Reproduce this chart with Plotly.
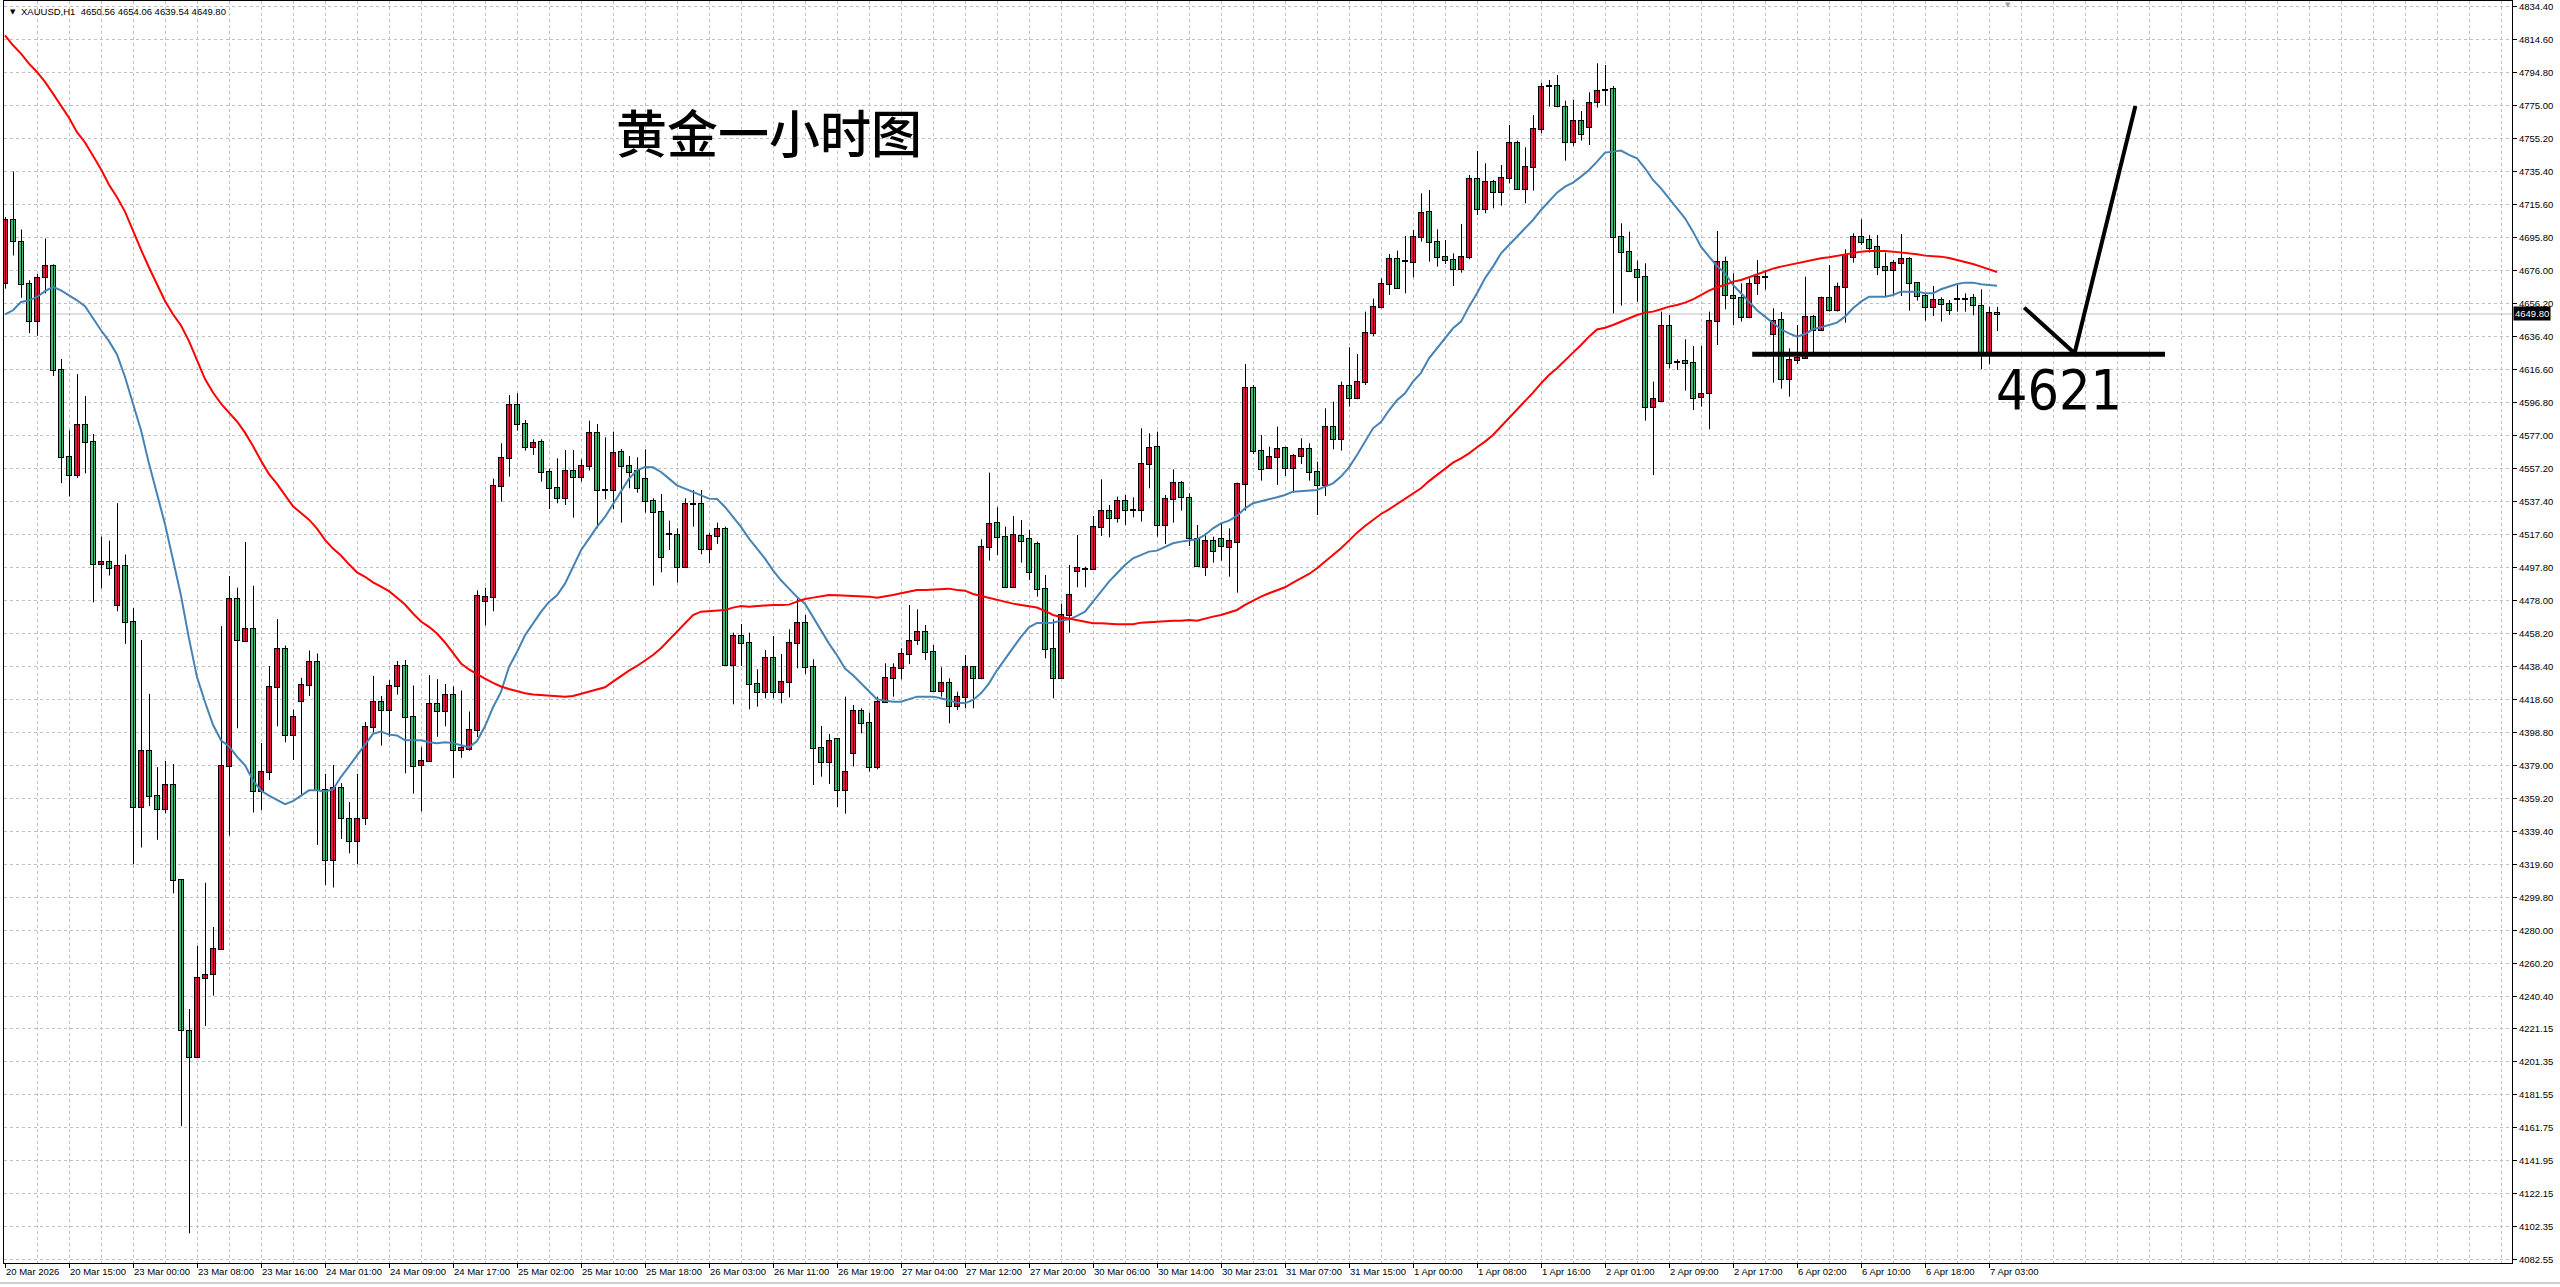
import plotly.graph_objects as go

# ---------------- data ----------------
time_labels = ["20 Mar 2026", "20 Mar 15:00", "23 Mar 00:00", "23 Mar 08:00", "23 Mar 16:00",
               "24 Mar 01:00", "24 Mar 09:00", "24 Mar 17:00", "25 Mar 02:00", "25 Mar 10:00",
               "25 Mar 18:00", "26 Mar 03:00", "26 Mar 11:00", "26 Mar 19:00", "27 Mar 04:00",
               "27 Mar 12:00", "27 Mar 20:00", "30 Mar 06:00", "30 Mar 14:00", "30 Mar 23:01",
               "31 Mar 07:00", "31 Mar 15:00", "1 Apr 00:00", "1 Apr 08:00", "1 Apr 16:00",
               "2 Apr 01:00", "2 Apr 09:00", "2 Apr 17:00", "6 Apr 02:00", "6 Apr 10:00",
               "6 Apr 18:00", "7 Apr 03:00"]

price_labels = ["4834.40", "4814.60", "4794.80", "4775.00", "4755.20", "4735.40", "4715.60",
                "4695.80", "4676.00", "4656.20", "4636.40", "4616.60", "4596.80", "4577.00",
                "4557.20", "4537.40", "4517.60", "4497.80", "4478.00", "4458.20", "4438.40",
                "4418.60", "4398.80", "4379.00", "4359.20", "4339.40", "4319.60", "4299.80",
                "4280.00", "4260.20", "4240.40", "4221.15", "4201.35", "4181.55", "4161.75",
                "4141.95", "4122.15", "4102.35", "4082.55"]

opens = [4668.3, 4706.4, 4693.0, 4667.8, 4645.6, 4671.8, 4678.5, 4616.1, 4563.9, 4553.2,
         4583.2, 4573.2, 4499.6, 4500.9, 4475.2, 4498.8, 4464.8, 4354.0, 4387.3, 4360.3,
         4352.7, 4367.1, 4310.0, 4219.4, 4203.7, 4251.4, 4253.7, 4268.6, 4378.4, 4478.7,
         4453.7, 4461.0, 4363.3, 4375.2, 4425.7, 4448.6, 4397.4, 4417.3, 4427.4, 4440.8,
         4364.0, 4321.9, 4365.6, 4346.9, 4333.5, 4347.4, 4401.7, 4416.8, 4412.0, 4426.4,
         4438.5, 4408.0, 4379.2, 4381.5, 4415.6, 4411.3, 4420.9, 4388.0, 4389.0, 4400.0,
         4477.6, 4480.0, 4546.5, 4563.2, 4595.2, 4583.8, 4569.8, 4572.8, 4555.2, 4545.2,
         4539.2, 4555.8, 4551.8, 4558.8, 4578.6, 4544.2, 4544.2, 4567.2, 4558.8, 4555.8,
         4550.6, 4537.8, 4530.8, 4517.6, 4517.2, 4498.2, 4535.6, 4535.6, 4508.6, 4516.8,
         4520.6, 4439.2, 4456.6, 4452.2, 4427.8, 4423.2, 4443.2, 4422.8, 4429.0, 4452.2,
         4464.6, 4437.8, 4389.2, 4381.2, 4394.6, 4364.2, 4386.2, 4411.8, 4404.6, 4378.2,
         4417.2, 4431.6, 4437.2, 4445.8, 4454.2, 4459.2, 4447.2, 4423.8, 4428.6, 4414.6,
         4419.8, 4437.8, 4431.2, 4509.8, 4524.2, 4515.8, 4486.2, 4516.6, 4514.6, 4511.8,
         4484.6, 4448.6, 4431.6, 4469.2, 4495.8, 4496.6, 4496.6, 4521.8, 4531.8, 4527.2,
         4537.8, 4532.2, 4532.2, 4559.8, 4569.8, 4523.2, 4538.6, 4548.2, 4539.2, 4514.6,
         4498.2, 4513.6, 4514.6, 4510.2, 4513.2, 4547.8, 4605.2, 4567.8, 4557.2, 4564.2,
         4569.2, 4557.2, 4564.6, 4568.6, 4555.2, 4547.2, 4582.2, 4574.6, 4606.8, 4599.2,
         4609.2, 4638.2, 4654.2, 4667.6, 4682.6, 4681.8, 4681.2, 4695.8, 4711.2, 4692.8,
         4684.2, 4682.2, 4676.6, 4684.2, 4730.6, 4712.6, 4728.8, 4723.2, 4731.2, 4752.2,
         4724.6, 4737.8, 4760.6, 4786.8, 4786.8, 4774.2, 4753.2, 4765.8, 4762.2, 4776.8,
         4784.2, 4784.6, 4696.2, 4686.8, 4676.2, 4672.2, 4594.2, 4597.8, 4642.6, 4621.2,
         4621.8, 4620.2, 4600.2, 4602.2, 4645.8, 4681.2, 4660.8, 4659.2, 4648.2, 4668.2,
         4671.8, 4637.6, 4646.0, 4610.6, 4622.2, 4623.6, 4648.0, 4640.4, 4659.4, 4652.4,
         4666.2, 4684.2, 4695.8, 4694.0, 4689.8, 4677.8, 4676.2, 4680.2, 4682.6, 4668.2,
         4660.6, 4653.8, 4658.2, 4655.6, 4658.8, 4658.8, 4659.2, 4654.6, 4626.6, 4650.56]

highs = [4708.0, 4735.3, 4700.5, 4670.0, 4673.7, 4695.1, 4679.6, 4622.8, 4580.0, 4613.7,
         4600.6, 4577.8, 4516.2, 4513.8, 4536.3, 4505.5, 4473.3, 4454.2, 4421.9, 4377.9,
         4381.7, 4379.7, 4310.5, 4232.8, 4270.6, 4308.5, 4282.0, 4462.5, 4492.6, 4485.6,
         4513.0, 4486.7, 4392.3, 4438.5, 4466.8, 4450.9, 4412.5, 4431.5, 4447.9, 4446.1,
         4373.9, 4379.2, 4368.3, 4357.0, 4373.9, 4405.0, 4432.7, 4420.6, 4430.2, 4441.6,
         4442.1, 4426.9, 4389.8, 4433.2, 4430.7, 4427.7, 4426.4, 4423.9, 4411.3, 4484.0,
         4485.6, 4551.0, 4572.2, 4601.2, 4602.2, 4586.2, 4574.6, 4574.6, 4557.2, 4563.2,
         4568.2, 4568.2, 4562.6, 4585.8, 4583.8, 4575.8, 4579.2, 4568.8, 4564.6, 4563.8,
         4568.6, 4539.2, 4541.8, 4525.8, 4521.2, 4539.2, 4544.2, 4544.2, 4518.6, 4524.6,
         4522.2, 4458.6, 4463.8, 4458.6, 4436.6, 4448.2, 4456.6, 4445.8, 4460.6, 4479.2,
         4469.2, 4442.6, 4402.6, 4397.8, 4395.2, 4420.2, 4415.2, 4413.2, 4410.6, 4420.2,
         4440.2, 4440.2, 4449.2, 4475.2, 4472.6, 4463.2, 4451.2, 4437.8, 4431.2, 4423.2,
         4445.2, 4438.2, 4514.6, 4554.6, 4533.8, 4522.2, 4528.6, 4526.2, 4520.2, 4513.2,
         4493.2, 4466.6, 4475.8, 4499.2, 4517.2, 4498.2, 4528.6, 4550.6, 4535.2, 4540.2,
         4541.2, 4539.8, 4581.2, 4578.2, 4579.2, 4541.2, 4556.6, 4549.6, 4542.2, 4523.2,
         4518.2, 4516.2, 4524.6, 4521.2, 4548.6, 4619.8, 4607.2, 4577.2, 4570.2, 4582.2,
         4570.2, 4565.8, 4575.2, 4572.2, 4561.2, 4593.2, 4597.2, 4609.2, 4629.8, 4625.8,
         4651.2, 4659.0, 4671.2, 4685.8, 4687.8, 4696.6, 4700.2, 4722.2, 4724.2, 4700.6,
         4694.2, 4686.2, 4703.8, 4733.2, 4747.6, 4740.2, 4730.2, 4739.2, 4763.2, 4753.8,
         4749.8, 4769.2, 4788.6, 4790.2, 4793.2, 4777.8, 4778.2, 4771.6, 4782.8, 4800.2,
         4799.2, 4786.6, 4704.2, 4699.2, 4681.8, 4680.2, 4609.2, 4651.2, 4649.2, 4622.6,
         4634.6, 4630.6, 4630.6, 4651.2, 4699.6, 4684.2, 4674.2, 4668.2, 4671.2, 4682.2,
         4676.2, 4653.2, 4651.0, 4629.2, 4643.2, 4672.2, 4649.2, 4660.2, 4679.2, 4668.6,
         4688.6, 4698.2, 4706.6, 4697.2, 4697.2, 4686.6, 4682.2, 4697.8, 4683.8, 4668.2,
         4662.2, 4666.6, 4659.8, 4658.2, 4668.2, 4662.2, 4661.8, 4664.6, 4654.2, 4654.06]

lows = [4665.0, 4684.9, 4659.5, 4638.3, 4636.7, 4662.2, 4612.6, 4548.3, 4540.3, 4551.5,
        4554.2, 4476.8, 4485.1, 4492.9, 4471.4, 4451.9, 4319.6, 4329.7, 4354.5, 4334.3,
        4350.2, 4302.2, 4162.5, 4098.2, 4203.7, 4222.6, 4240.8, 4268.6, 4336.8, 4401.2,
        4452.9, 4350.7, 4352.0, 4370.1, 4402.4, 4392.8, 4382.2, 4360.8, 4420.6, 4331.2,
        4307.2, 4305.7, 4334.8, 4326.2, 4319.6, 4343.1, 4398.6, 4390.8, 4396.1, 4421.4,
        4374.2, 4362.0, 4351.4, 4381.0, 4396.1, 4402.4, 4371.4, 4383.5, 4387.8, 4396.0,
        4463.0, 4471.4, 4537.2, 4552.2, 4579.8, 4567.8, 4565.2, 4549.2, 4532.8, 4536.2,
        4535.2, 4527.6, 4549.2, 4555.8, 4521.2, 4538.6, 4532.6, 4524.6, 4545.2, 4542.6,
        4530.6, 4486.8, 4494.8, 4508.2, 4488.6, 4497.8, 4522.2, 4505.6, 4500.2, 4511.8,
        4438.6, 4415.6, 4438.6, 4412.6, 4414.2, 4419.2, 4419.2, 4416.2, 4419.8, 4437.2,
        4433.8, 4367.2, 4372.2, 4367.8, 4354.0, 4350.0, 4378.2, 4398.2, 4375.2, 4376.6,
        4416.6, 4420.2, 4430.6, 4439.8, 4451.2, 4442.2, 4423.2, 4420.2, 4404.2, 4412.2,
        4413.2, 4413.2, 4430.6, 4501.8, 4505.2, 4485.8, 4485.8, 4500.6, 4490.2, 4480.2,
        4443.2, 4419.2, 4431.2, 4458.6, 4485.8, 4485.8, 4496.6, 4516.6, 4515.8, 4524.6,
        4523.2, 4527.8, 4525.2, 4545.2, 4516.2, 4511.8, 4524.6, 4531.8, 4510.6, 4498.2,
        4492.6, 4500.6, 4501.8, 4492.2, 4482.6, 4531.8, 4565.8, 4549.8, 4557.0, 4547.2,
        4552.6, 4542.6, 4559.8, 4549.8, 4529.2, 4540.6, 4568.6, 4567.8, 4594.2, 4598.6,
        4607.2, 4636.6, 4653.2, 4661.2, 4664.8, 4662.2, 4671.8, 4693.2, 4681.2, 4678.2,
        4679.8, 4666.6, 4674.6, 4682.6, 4709.2, 4710.2, 4713.2, 4714.8, 4728.2, 4724.6,
        4716.2, 4723.8, 4758.2, 4774.2, 4773.8, 4741.8, 4750.6, 4753.8, 4751.2, 4773.6,
        4774.8, 4650.2, 4654.8, 4675.2, 4657.2, 4585.8, 4553.2, 4597.2, 4617.2, 4616.2,
        4603.8, 4592.2, 4594.2, 4580.6, 4631.2, 4652.6, 4643.2, 4645.2, 4647.2, 4661.2,
        4664.4, 4608.6, 4605.0, 4600.2, 4619.8, 4623.0, 4626.2, 4639.8, 4651.2, 4651.2,
        4644.6, 4680.6, 4691.2, 4686.6, 4673.2, 4659.8, 4660.6, 4660.6, 4651.8, 4657.8,
        4645.8, 4648.6, 4645.2, 4649.2, 4651.2, 4651.2, 4649.0, 4616.6, 4619.6, 4639.54]

closes = [4706.4, 4693.5, 4667.8, 4645.6, 4671.6, 4678.5, 4616.1, 4563.9, 4553.2, 4583.2,
          4573.2, 4499.6, 4501.0, 4497.4, 4498.8, 4464.7, 4354.0, 4387.3, 4360.3, 4352.7,
          4367.1, 4310.0, 4220.1, 4204.0, 4251.4, 4252.9, 4268.6, 4378.4, 4478.7, 4454.0,
          4461.0, 4363.3, 4374.7, 4425.7, 4448.6, 4397.4, 4407.7, 4427.2, 4440.8, 4364.0,
          4321.9, 4365.6, 4347.4, 4333.5, 4346.9, 4401.7, 4416.8, 4412.0, 4426.4, 4438.5,
          4408.0, 4378.4, 4381.5, 4415.6, 4411.3, 4420.9, 4388.0, 4389.3, 4399.9, 4480.8,
          4480.0, 4546.5, 4563.2, 4595.2, 4583.8, 4569.8, 4572.2, 4555.2, 4545.2, 4539.2,
          4555.8, 4551.8, 4558.8, 4578.6, 4544.2, 4544.2, 4566.6, 4558.8, 4555.2, 4545.2,
          4537.8, 4530.8, 4503.8, 4517.6, 4498.2, 4535.8, 4535.6, 4508.6, 4516.6, 4520.6,
          4439.2, 4456.6, 4452.2, 4427.8, 4423.2, 4443.2, 4422.8, 4429.2, 4452.2, 4464.6,
          4437.8, 4389.2, 4381.2, 4393.8, 4364.2, 4375.2, 4411.8, 4404.6, 4378.2, 4417.2,
          4431.6, 4437.2, 4445.8, 4453.8, 4459.2, 4447.2, 4423.8, 4428.6, 4414.6, 4419.8,
          4437.8, 4431.2, 4509.8, 4523.8, 4515.8, 4486.2, 4517.2, 4513.8, 4495.2, 4484.6,
          4448.6, 4431.6, 4469.2, 4481.2, 4497.2, 4496.6, 4522.2, 4531.8, 4527.2, 4537.8,
          4532.2, 4532.2, 4559.8, 4569.2, 4523.2, 4538.6, 4548.2, 4539.8, 4515.2, 4498.8,
          4513.6, 4507.8, 4510.8, 4513.6, 4547.8, 4605.2, 4567.8, 4556.6, 4564.2, 4568.6,
          4557.2, 4564.6, 4568.6, 4555.2, 4547.2, 4582.2, 4574.6, 4606.8, 4599.2, 4609.2,
          4638.2, 4654.2, 4667.6, 4682.6, 4665.2, 4681.8, 4696.2, 4710.6, 4692.8, 4684.2,
          4682.2, 4676.6, 4684.2, 4730.6, 4712.6, 4728.8, 4723.2, 4731.2, 4752.2, 4724.6,
          4737.8, 4760.6, 4786.2, 4786.8, 4774.6, 4752.8, 4765.8, 4757.8, 4776.2, 4783.8,
          4784.2, 4696.2, 4686.8, 4675.8, 4672.2, 4593.8, 4598.6, 4642.6, 4620.6, 4621.2,
          4620.2, 4599.6, 4601.6, 4645.8, 4681.2, 4661.2, 4659.2, 4648.2, 4667.8, 4671.8,
          4671.8, 4645.4, 4610.6, 4622.0, 4623.6, 4648.0, 4640.4, 4659.4, 4652.4, 4665.8,
          4685.0, 4695.8, 4693.2, 4689.6, 4677.8, 4676.2, 4680.2, 4682.6, 4668.2, 4660.6,
          4653.8, 4658.2, 4655.6, 4652.2, 4658.8, 4658.8, 4655.0, 4626.6, 4650.2, 4649.80]

ma_blue = [4649.6, 4652.0, 4657.0, 4658.0, 4660.0, 4663.5, 4666.0, 4664.0, 4661.0, 4658.0,
           4654.4, 4647.0, 4640.0, 4633.5, 4625.5, 4612.0, 4596.0, 4580.0, 4560.0, 4542.0,
           4523.7, 4502.3, 4480.8, 4455.0, 4432.0, 4417.0, 4403.3, 4394.0, 4390.3, 4384.2,
           4379.0, 4370.0, 4363.8, 4360.8, 4358.2, 4355.7, 4357.5, 4360.8, 4364.0, 4364.0,
           4363.3, 4364.5, 4372.1, 4378.4, 4384.8, 4391.0, 4397.9, 4399.2, 4397.4, 4396.9,
           4394.0, 4394.0, 4394.0, 4392.8, 4392.3, 4392.8, 4392.3, 4391.0, 4389.8, 4393.6,
           4402.4, 4413.8, 4423.0, 4438.0, 4447.0, 4457.0, 4464.0, 4471.0, 4477.0, 4481.0,
           4488.0, 4498.0, 4508.0, 4515.0, 4522.0, 4528.0, 4535.8, 4544.0, 4551.0, 4556.0,
           4558.0, 4557.8, 4555.0, 4551.0, 4547.0, 4545.0, 4543.0, 4540.8, 4539.0, 4538.8,
           4534.0, 4528.0, 4522.0, 4515.0, 4509.0, 4503.0, 4496.0, 4490.0, 4485.0, 4480.0,
           4476.0, 4468.0, 4460.0, 4452.0, 4445.0, 4437.0, 4433.0, 4428.0, 4423.0, 4418.6,
           4417.8, 4417.2, 4417.2, 4418.6, 4420.2, 4420.2, 4420.2, 4419.2, 4417.8, 4416.6,
           4416.2, 4418.2, 4422.2, 4428.2, 4436.0, 4443.0, 4449.5, 4456.0, 4461.8, 4464.4,
           4464.6, 4464.6, 4465.8, 4466.6, 4468.6, 4471.2, 4477.2, 4483.2, 4489.2, 4494.2,
           4499.2, 4503.2, 4505.2, 4507.2, 4507.8, 4510.2, 4512.2, 4513.2, 4513.8, 4514.6,
           4517.2, 4521.2, 4524.2, 4525.8, 4528.6, 4533.2, 4536.2, 4537.2, 4538.6, 4539.8,
           4541.2, 4543.2, 4543.6, 4543.6, 4544.2, 4546.2, 4548.2, 4552.2, 4557.8, 4565.2,
           4573.2, 4581.2, 4585.0, 4592.0, 4598.0, 4602.2, 4609.2, 4614.5, 4623.2, 4629.2,
           4635.2, 4641.2, 4645.2, 4654.2, 4662.2, 4671.2, 4678.2, 4686.2, 4691.2, 4696.2,
           4701.2, 4706.2, 4712.2, 4717.2, 4722.6, 4726.2, 4728.6, 4732.2, 4736.2, 4741.2,
           4746.6, 4747.2, 4747.8, 4745.2, 4743.2, 4737.2, 4730.2, 4725.2, 4719.2, 4713.2,
           4707.2, 4699.2, 4690.2, 4684.2, 4678.6, 4674.2, 4667.2, 4662.2, 4657.2, 4652.0,
           4648.2, 4644.5, 4640.6, 4638.2, 4636.2, 4637.8, 4640.6, 4641.8, 4643.2, 4644.6,
           4648.2, 4653.2, 4657.2, 4660.2, 4660.2, 4660.2, 4661.2, 4663.2, 4663.2, 4663.2,
           4662.2, 4662.2, 4664.6, 4666.2, 4667.8, 4668.6, 4668.6, 4667.6, 4667.0, 4666.8]

ma_red = [4817.0, 4811.0, 4806.0, 4800.0, 4795.0, 4789.0, 4782.0, 4775.0, 4767.5, 4758.9,
          4752.7, 4744.7, 4736.6, 4727.3, 4719.8, 4711.2, 4699.2, 4688.4, 4677.7, 4667.8,
          4657.6, 4649.6, 4642.9, 4633.5, 4621.5, 4610.7, 4602.7, 4596.0, 4590.6, 4585.3,
          4578.6, 4570.6, 4561.7, 4553.7, 4547.8, 4541.1, 4534.4, 4530.4, 4526.4, 4521.0,
          4514.3, 4509.0, 4504.9, 4499.6, 4494.7, 4492.1, 4488.8, 4486.2, 4483.5, 4479.5,
          4475.5, 4470.1, 4465.3, 4462.1, 4458.1, 4452.7, 4446.5, 4440.1, 4436.5, 4434.0,
          4431.0, 4428.5, 4426.3, 4424.8, 4423.6, 4422.2, 4421.5, 4421.2, 4421.0, 4420.6,
          4420.2, 4420.6, 4421.8, 4423.2, 4424.2, 4425.8, 4429.2, 4432.6, 4435.8, 4438.6,
          4441.8, 4445.2, 4449.2, 4454.2, 4458.6, 4463.8, 4469.2, 4471.2, 4471.6, 4471.8,
          4472.2, 4473.6, 4474.6, 4474.2, 4474.6, 4475.0, 4475.2, 4475.2, 4475.4, 4477.2,
          4478.8, 4479.6, 4480.2, 4481.2, 4481.0, 4480.8, 4480.8, 4480.8, 4480.2, 4479.6,
          4480.2, 4481.2, 4482.2, 4483.2, 4484.2, 4484.2, 4484.6, 4485.0, 4485.0, 4484.2,
          4483.8, 4481.8, 4480.6, 4479.2, 4478.0, 4476.8, 4476.0, 4475.2, 4474.6, 4473.7,
          4471.6, 4469.2, 4468.0, 4467.0, 4466.0, 4465.0, 4464.2, 4464.2, 4463.8, 4463.6,
          4463.6, 4463.6, 4464.6, 4465.0, 4465.4, 4465.8, 4465.8, 4465.8, 4466.2, 4465.8,
          4467.2, 4468.2, 4469.2, 4470.6, 4472.2, 4475.2, 4477.8, 4480.2, 4482.2, 4483.8,
          4485.8, 4488.6, 4491.2, 4493.8, 4497.2, 4501.2, 4505.2, 4509.2, 4513.8, 4518.6,
          4522.6, 4526.2, 4529.8, 4532.6, 4535.8, 4538.6, 4542.2, 4545.2, 4549.5, 4553.2,
          4557.2, 4560.6, 4563.2, 4566.2, 4569.8, 4573.2, 4577.2, 4582.2, 4587.2, 4592.2,
          4597.2, 4602.6, 4608.2, 4613.2, 4617.2, 4622.2, 4626.6, 4631.2, 4636.2, 4640.5,
          4641.5, 4643.2, 4645.2, 4647.2, 4649.2, 4650.6, 4651.2, 4652.6, 4654.2, 4655.2,
          4656.6, 4658.6, 4661.2, 4663.8, 4665.8, 4667.2, 4669.2, 4670.2, 4671.8, 4673.5,
          4675.0, 4677.0, 4678.2, 4679.2, 4680.2, 4681.6, 4682.2, 4683.2, 4683.8, 4684.6,
          4685.8, 4686.6, 4687.2, 4687.6, 4687.8, 4687.6, 4687.2, 4686.8, 4686.2, 4685.6,
          4684.8, 4684.6, 4684.2, 4683.4, 4682.2, 4681.2, 4679.8, 4678.2, 4676.6, 4675.0]

# hand-drawn annotations (bar index, price)
support_x = [218.4, 270.0]
support_y = [4625.6, 4625.6]
arrow_x = [252.4, 258.7, 266.3]
arrow_y = [4653.6, 4626.2, 4774.6]
support_text = "4621"
support_text_pos = (256.7, 4604.2)
title_text = "黄金一小时图"
symbol_text = "XAUUSD,H1\u00a0\u00a04650.56 4654.06 4639.54 4649.80"

# ---------------- styling ----------------
UP = "#E8163F"
DOWN = "#3DBA74"
GRID = "#C0C0C0"
LABEL_FONT = "Liberation Sans, Arial, sans-serif"
LABEL_SIZE = 9.5

W, H = 2560, 1287
ML, MR, MT, MB = 4, 48, 1, 24
PW, PH = W - ML - MR, H - MT - MB
PX_PER_BAR = 8.0
x_first_center = 5.0
x0 = (ML - x_first_center) / PX_PER_BAR
x1 = x0 + PW / PX_PER_BAR
PX_PER_PRICE = 33.0 / 19.8
PRICE_PER_PX = 1.0 / PX_PER_PRICE
y_top = 4834.40 + (6.3 - MT) / PX_PER_PRICE
y_bot = y_top - PH / PX_PER_PRICE
WICK_SHIFT = 0.5 / PX_PER_BAR   # puts the 1px wick on a whole pixel


def px_x(px):
    return (px - ML) / PW


def px_y(py):
    return 1 - (py - MT) / PH


n = len(closes)
idx = list(range(n))

wick_x, wick_y = [], []
for i in idx:
    wick_x += [i + WICK_SHIFT, i + WICK_SHIFT, None]
    wick_y += [lows[i], highs[i], None]

body_lo = [min(o, c) for o, c in zip(opens, closes)]
body_len = [abs(c - o) for o, c in zip(opens, closes)]
outline_base = [b - PRICE_PER_PX for b in body_lo]
outline_len = [h + 2 * PRICE_PER_PX for h in body_len]
body_col = [UP if c > o else (DOWN if c < o else "black") for o, c in zip(opens, closes)]

fig = go.Figure()
fig.add_trace(go.Scatter(x=wick_x, y=wick_y, mode="lines",
                         line=dict(color="black", width=1), hoverinfo="skip"))
# black outline of each body (6 px wide), then the coloured fill (4 px wide)
fig.add_trace(go.Bar(x=idx, y=outline_len, base=outline_base, width=6 / PX_PER_BAR,
                     marker=dict(color="black", line=dict(width=0)), hoverinfo="skip"))
fig.add_trace(go.Bar(x=idx, y=body_len, base=body_lo, width=4 / PX_PER_BAR,
                     marker=dict(color=body_col, line=dict(width=0)), hoverinfo="skip"))
fig.add_trace(go.Scatter(x=idx, y=ma_blue, mode="lines",
                         line=dict(color="#4682B4", width=2), hoverinfo="skip"))
fig.add_trace(go.Scatter(x=idx, y=ma_red, mode="lines",
                         line=dict(color="#FF0000", width=2), hoverinfo="skip"))
fig.add_trace(go.Scatter(x=support_x, y=support_y, mode="lines",
                         line=dict(color="black", width=5), hoverinfo="skip"))
fig.add_trace(go.Scatter(x=arrow_x, y=arrow_y, mode="lines",
                         line=dict(color="black", width=4), hoverinfo="skip"))

label_bars = list(range(0, n, 8))[:len(time_labels)]

fig.update_layout(
    width=W, height=H, autosize=False,
    margin=dict(l=ML, r=MR, t=MT, b=MB, pad=0, autoexpand=False),
    paper_bgcolor="white", plot_bgcolor="white",
    showlegend=False, hovermode=False, barmode="overlay", bargap=0,
    xaxis=dict(
        range=[x0, x1], showgrid=True, gridcolor=GRID, griddash="3px,3px", gridwidth=1,
        zeroline=False, showline=True, linecolor="black", linewidth=1, mirror=True,
        tickmode="array", tickvals=label_bars, ticktext=time_labels,
        ticks="outside", ticklen=4, tickcolor="black", tickwidth=1, tickangle=0,
        ticklabelposition="outside right", automargin=False,
        tickfont=dict(family=LABEL_FONT, size=LABEL_SIZE, color="black"),
        minor=dict(dtick=4, tick0=0, showgrid=True, gridcolor=GRID, griddash="3px,3px",
                   gridwidth=1, ticks=""),
        fixedrange=True,
    ),
    yaxis=dict(
        range=[y_bot, y_top], side="right", showgrid=True, gridcolor=GRID,
        griddash="3px,3px", gridwidth=1, zeroline=False, showline=True,
        linecolor="black", linewidth=1, mirror=True, automargin=False,
        tickmode="array", tickvals=[float(v) for v in price_labels], ticktext=price_labels,
        ticks="outside", ticklen=4, tickcolor="black", tickwidth=1,
        tickfont=dict(family=LABEL_FONT, size=LABEL_SIZE, color="black"),
        fixedrange=True,
    ),
)

# current price line
fig.add_shape(type="line", xref="paper", yref="y", x0=0, x1=1,
              y0=closes[-1], y1=closes[-1], line=dict(color=GRID, width=1), layer="between")
# thin strip line at the very bottom of the window
fig.add_shape(type="line", xref="paper", yref="paper", x0=px_x(0), x1=px_x(W),
              y0=px_y(1283), y1=px_y(1283), line=dict(color="#A0A0A0", width=1))

annotations = [
    dict(xref="paper", yref="y", x=1, xshift=1, y=closes[-1], xanchor="left", yanchor="middle",
         text=f"{closes[-1]:.2f}", showarrow=False, bgcolor="black", borderpad=1,
         font=dict(family=LABEL_FONT, size=LABEL_SIZE, color="white")),
    dict(xref="paper", yref="paper", x=px_x(8), y=px_y(12), xanchor="left", yanchor="middle",
         text="\u25BC", showarrow=False, font=dict(family="DejaVu Sans", size=7, color="black")),
    dict(xref="paper", yref="paper", x=px_x(19), y=px_y(12), xanchor="left", yanchor="middle",
         text=symbol_text, showarrow=False,
         font=dict(family=LABEL_FONT, size=LABEL_SIZE, color="black")),
    dict(xref="paper", yref="paper", x=px_x(2008), y=px_y(5), xanchor="center", yanchor="middle",
         text="\u25BC", showarrow=False, font=dict(family="DejaVu Sans", size=7, color="#A0A0A0")),
    dict(xref="paper", yref="paper", x=px_x(769), y=px_y(131), xanchor="center", yanchor="middle",
         text=title_text, showarrow=False,
         font=dict(family="Noto Sans CJK SC", size=51, color="black", weight=500)),
    dict(xref="x", yref="y", x=support_text_pos[0], y=support_text_pos[1],
         xanchor="center", yanchor="middle", text=support_text, showarrow=False,
         font=dict(family="DejaVu Sans Condensed, DejaVu Sans, sans-serif", size=55, color="black")),
]
fig.update_layout(annotations=annotations)

fig.write_html("out.html", config={"displayModeBar": False, "staticPlot": True},
               post_script="document.body.style.margin='0';document.body.style.overflow='hidden';")
